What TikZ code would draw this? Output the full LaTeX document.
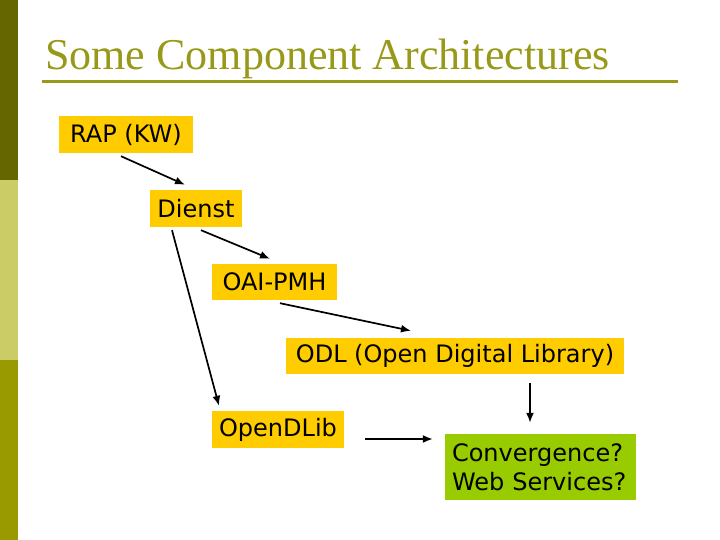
\documentclass[tikz,border=0pt]{standalone}
\usepackage{fontspec}
\setmainfont{Liberation Serif}
\newfontfamily\boxfont{DejaVu Sans}
\usetikzlibrary{calc,arrows.meta}
\definecolor{barA}{HTML}{666600}
\definecolor{barB}{HTML}{CCCC66}
\definecolor{barC}{HTML}{999900}
\definecolor{titlecol}{HTML}{999919}
\definecolor{boxorange}{HTML}{FFCC00}
\definecolor{boxgreen}{HTML}{99CC00}
\tikzset{
  ybox/.style={fill=boxorange, inner sep=0pt, font=\boxfont\fontsize{24}{28}\selectfont, text=black},
  gbox/.style={fill=boxgreen, inner sep=0pt, font=\boxfont\fontsize{24}{29}\selectfont, text=black, align=left},
  arr/.style={line width=1.7pt, -{Latex[length=10pt,width=8pt]}}
}
\begin{document}
\begin{tikzpicture}[x=1pt,y=-1pt]
\useasboundingbox (0,0) rectangle (720,540);
\fill[white] (0,0) rectangle (720,540);
% left bar
\fill[barA] (0,0) rectangle (18,180);
\fill[barB] (0,180) rectangle (18,360);
\fill[barC] (0,360) rectangle (18,540);
% title
\node[anchor=base west, inner sep=0pt, text=titlecol, font=\fontsize{44}{48}\selectfont] (title) at (45,70) {Some Component Architectures};
\fill[titlecol] (42,80.5) rectangle (678,83.5);
% boxes
\node[ybox, minimum width=134pt, minimum height=37pt] (rap) at (126,134.5) {RAP (KW)};
\node[ybox, minimum width=92pt, minimum height=37pt] (dienst) at (196,208.5) {Dienst};
\node[ybox, minimum width=125pt, minimum height=36pt] (oai) at (274.5,282) {OAI-PMH};
\node[ybox, minimum width=338pt, minimum height=36pt] (odl) at (455,356) {ODL (Open Digital Library)};
\node[ybox, minimum width=132pt, minimum height=37pt] (open) at (278,429.5) {OpenDLib};
\node[gbox, minimum width=191pt, minimum height=66pt, text width=177pt] (conv) at (540.5,467) {Convergence?\\Web Services?};
% arrows
\draw[arr] ($(rap.south)+(-5,3)$) -- ($(dienst.north)+(-11,-5)$);
\draw[arr] ($(dienst.south)+(5,3)$) -- ($(oai.north)+(-4.5,-5)$);
\draw[arr] ($(oai.south)+(5.5,3)$) -- ($(odl.north)+(-44,-7)$);
\draw[arr] ($(dienst.south)+(-24,3)$) -- ($(open.north)+(-59,-5)$);
\draw[arr] ($(odl.south)+(75,9)$) -- ($(conv.north)+(-10.5,-11)$);
\draw[arr] ($(open.east)+(21,9.5)$) -- ($(conv.west)+(-12,-28)$);
\end{tikzpicture}
\end{document}
